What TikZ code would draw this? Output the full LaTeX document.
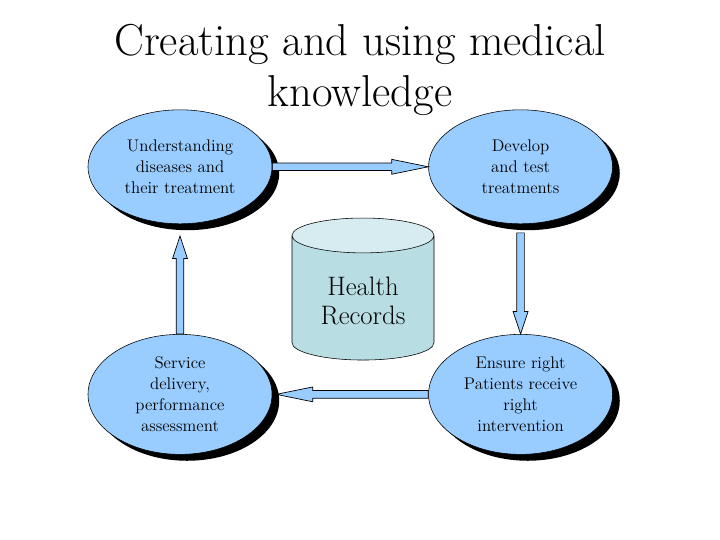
\documentclass[tikz,border=0pt]{standalone}
\usepackage{tikz}
\usetikzlibrary{arrows.meta, shapes.geometric, positioning, shadows, calc}
\definecolor{medblue}{RGB}{153, 204, 255}
\definecolor{recbody}{RGB}{184, 222, 228}
\definecolor{rectop}{RGB}{215, 236, 240}

\begin{document}
\begin{tikzpicture}[
    ell/.style={ellipse, draw, fill=medblue, minimum width=4.6cm, minimum height=2.85cm,
                align=center, inner sep=0pt, font=\fontsize{12}{15}\selectfont,
                drop shadow={shadow xshift=0.18cm, shadow yshift=-0.16cm, fill=black, opacity=1}},
    cyl/.style={cylinder, shape border rotate=90, draw, aspect=0.37,
                minimum width=3.55cm, minimum height=3.55cm,
                cylinder uses custom fill, cylinder body fill=recbody, cylinder end fill=rectop,
                align=center, font=\fontsize{19}{20.6}\selectfont},
    barr/.style={draw, fill=medblue, line width=0.5pt, to path={
        ($(\tikztostart)!2.7pt!90:(\tikztotarget)$)
        -- ($(\tikztotarget)!#1!(\tikztostart)!2.7pt!90:(\tikztotarget)$)
        -- ($(\tikztotarget)!#1!(\tikztostart)!5.3pt!90:(\tikztotarget)$)
        -- (\tikztotarget)
        -- ($(\tikztotarget)!#1!(\tikztostart)!5.3pt!-90:(\tikztotarget)$)
        -- ($(\tikztotarget)!#1!(\tikztostart)!2.7pt!-90:(\tikztotarget)$)
        -- ($(\tikztostart)!2.7pt!-90:(\tikztotarget)$)
        -- cycle}},
    barr/.default=26pt]
    \useasboundingbox (0,0) rectangle (18,13.5);

    \node[font=\fontsize{31.8}{36}\selectfont, align=center] (title) at (9,11.75)
          {Creating and using medical\\knowledge};

    \node[ell] (ul) at (4.5,9.33) {Understanding\\diseases and\\their treatment};
    \node[ell, right=3.9cm of ul] (ur) {Develop\\and test\\treatments};
    \node[ell, minimum height=3cm, below=2.75cm of ul] (dl)
          {Service\\delivery,\\performance\\assessment};
    \node[ell, minimum height=3cm, below=2.75cm of ur] (dr)
          {Ensure right\\Patients receive\\right\\intervention};

    \node[cyl] (rec) at (9.075,5.975) {Health\\Records};

    \draw[barr] (ul.east) to (ur.west);
    \draw[barr=16pt] ([yshift=-0.22cm]ur.south) to (dr.north);
    \draw[barr] (dr.west) to ([xshift=0.1cm]dl.east);
    \draw[barr=16pt] (dl.north) to ([yshift=-0.3cm]ul.south);
\end{tikzpicture}
\end{document}
